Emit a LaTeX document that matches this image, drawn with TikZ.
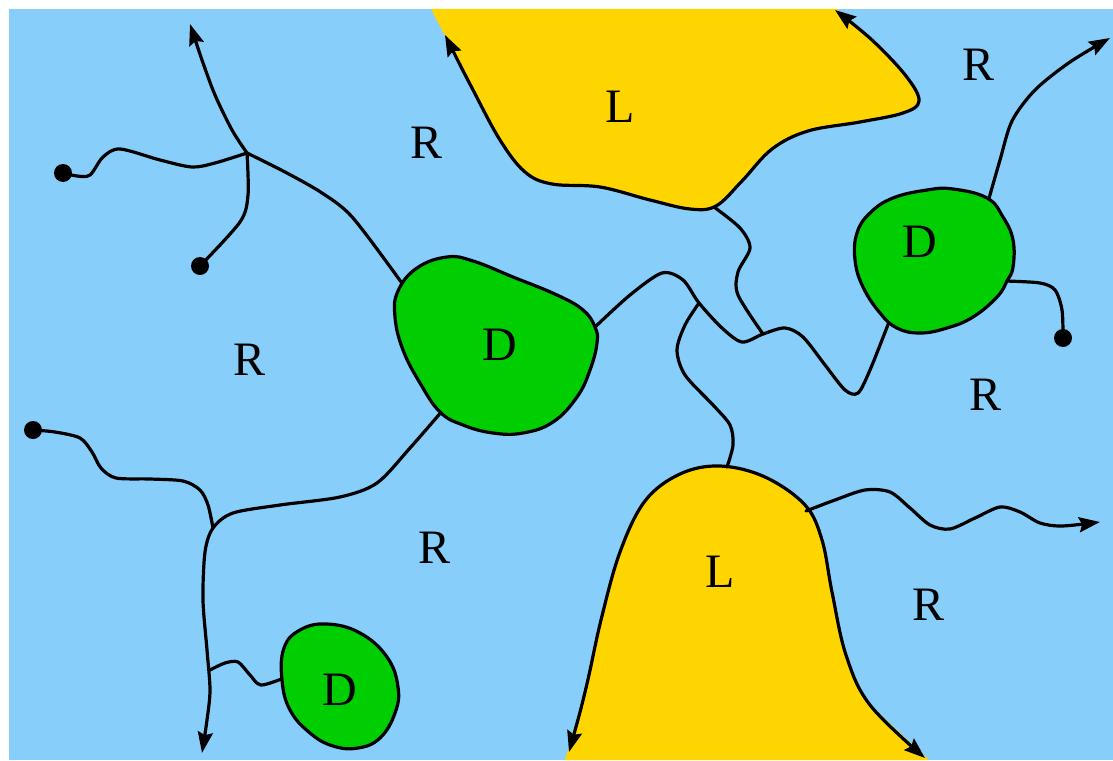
\documentclass[tikz,border=0pt]{standalone}
\usepackage{fontspec}
\setmainfont{Liberation Serif}
\usetikzlibrary{arrows.meta}
\definecolor{water}{RGB}{135,206,250}
\definecolor{land}{RGB}{255,213,0}
\definecolor{delta}{RGB}{0,206,0}

\begin{document}
\begin{tikzpicture}[x=1pt,y=-1pt,>={Stealth[length=21pt,width=15pt,inset=3pt]},
edge/.style={line width=3.2pt,line join=round,line cap=round},
shore/.style={edge,<->,fill=land},
blob/.style={edge,fill=delta},
tag/.style={font=\fontsize{48}{48}\selectfont,inner sep=0pt}]
\useasboundingbox (0,0) rectangle (1113,760);
\fill[water] (9,9) rectangle (1113,760);
\fill[land] (431,9) -- (472,88) -- (872,40) -- (837,9) -- cycle;
\fill[land] (565,760) -- (586,688) -- (870,705) -- (929,760) -- cycle;
\draw[shore] plot[smooth,tension=0.6] coordinates {(445,35) (472,88) (500,140) (525,172) (552,184) (600,187) (650,200) (690,209) (716,206) (742,181) (772,149) (808,131) (860,122) (903,113) (919,101) (906,76) (872,40) (835,10)};
\draw[shore] plot[smooth,tension=0.6] coordinates {(569,752) (586,688) (601,620) (620,552) (645,501) (680,474) (720,466) (765,477) (805,505) (822,540) (832,592) (846,655) (870,705) (925,758)};
\coordinate (jtop) at (247,153);
\coordinate (jlow) at (213,528);
\coordinate (jmid) at (699,303);
\coordinate (jright) at (763,334);
\coordinate (pinA) at (63,173);
\coordinate (pinB) at (200,266);
\coordinate (pinC) at (33,430);
\coordinate (pinD) at (1063,338);
\draw[edge,->] plot[smooth] coordinates {(jtop) (232,130) (215,95) (202,60) (190,24)};
\draw[edge] plot[smooth] coordinates {(jtop) (215,163) (192,167) (160,160) (120,149) (103,157) (90,175) (77,176) (pinA)};
\draw[edge] plot[smooth] coordinates {(jtop) (248,195) (240,222) (pinB)};
\draw[edge] plot[smooth] coordinates {(jtop) (285,172) (322,193) (353,218) (404,286)};
\draw[edge] plot[smooth] coordinates {(pinC) (55,432) (80,438) (92,452) (101,468) (116,478) (150,479) (183,481) (200,490) (208,505) (jlow)};
\draw[edge,->] plot[smooth] coordinates {(443,410) (410,448) (377,483) (340,497) (280,505) (233,513) (jlow) (205,552) (203,600) (207,650) (210,690) (207,720) (202,753)};
\draw[edge] plot[smooth] coordinates {(210,670) (225,663) (238,662) (250,675) (261,685) (284,678)};
\draw[edge] plot[smooth] coordinates {(594,328) (630,295) (662,273) (683,280) (jmid) (722,328) (742,342) (jright) (785,328) (803,337) (825,365) (845,390) (858,393) (870,370) (889,322)};
\draw[edge] plot[smooth] coordinates {(714,207) (740,228) (750,248) (738,272) (738,295) (jright)};
\draw[edge] plot[smooth] coordinates {(jmid) (685,325) (677,350) (685,375) (713,405) (730,425) (733,445) (727,467)};
\draw[edge,->] plot[smooth] coordinates {(988,202) (1000,160) (1012,121) (1035,90) (1070,62) (1110,38)};
\draw[edge] plot[smooth] coordinates {(1005,281) (1040,283) (1055,290) (1062,310) (pinD)};
\draw[edge,->] plot[smooth] coordinates {(806,511) (835,500) (865,490) (890,492) (910,508) (930,525) (950,529) (975,518) (1000,507) (1020,512) (1040,523) (1062,526) (1100,522)};
\draw[blob] plot[smooth cycle,tension=0.7] coordinates {(417,268) (447,257) (473,261) (513,277) (557,295) (583,310) (595,327) (597,343) (590,370) (577,397) (553,422) (523,433) (493,433) (463,425) (440,412) (420,383) (403,350) (395,317) (398,291)};
\draw[blob] plot[smooth cycle,tension=0.7] coordinates {(870,213) (893,198) (927,190) (953,189) (987,198) (1003,217) (1013,240) (1013,267) (1007,281) (997,297) (973,317) (947,328) (920,333) (897,328) (880,313) (863,287) (855,260) (857,233)};
\draw[blob] plot[smooth cycle,tension=0.7] coordinates {(300,630) (327,624) (360,633) (387,657) (398,687) (395,713) (380,738) (358,748) (333,746) (310,733) (290,710) (282,680) (284,648)};
\foreach \p in {pinA,pinB,pinC,pinD} \fill (\p) circle[radius=9];
\node[tag] (rNW) at (427,143) {R};
\node[tag] (rNE) at (978,65) {R};
\node[tag] (rW) at (250,360) {R};
\node[tag] (rE) at (985,395) {R};
\node[tag] (rS) at (435,548) {R};
\node[tag] (rSE) at (928,605) {R};
\node[tag] (lN) at (620,107) {L};
\node[tag] (lS) at (720,572) {L};
\node[tag] (dC) at (500,345) {D};
\node[tag] (dE) at (920,242) {D};
\node[tag] (dSW) at (340,690) {D};
\end{tikzpicture}
\end{document}
